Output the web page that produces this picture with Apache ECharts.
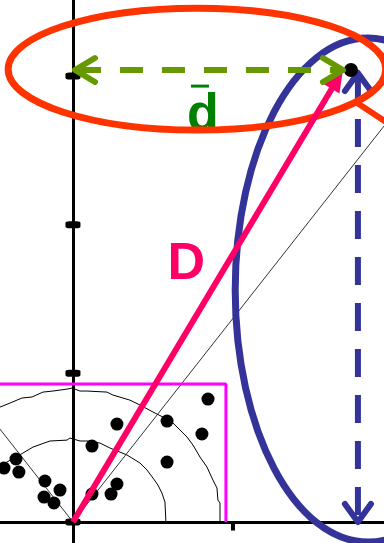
<!DOCTYPE html>
<html>
<head>
<meta charset="utf-8">
<script src="https://cdn.jsdelivr.net/npm/echarts@6/dist/echarts.min.js"></script>
<style>
html, body { margin: 0; padding: 0; background: #fff; }
#main { width: 384px; height: 543px; }
</style>
</head>
<body>
<div id="main"></div>
<script>
// axis ticks
var yTicks = [0, 1, 2, 3];
var xTicks = [1];

// sample points
var dots = [
	[0.844, 0.827], [0.806, 0.592], [0.588, 0.679], [0.588, 0.403],
	[0.275, 0.659], [0.119, 0.511], [0.275, 0.256], [0.238, 0.188],
	[0.119, 0.188], [-0.356, 0.424], [-0.431, 0.363], [-0.338, 0.336],
	[-0.175, 0.276], [-0.081, 0.215], [-0.181, 0.168], [-0.119, 0.128]
];
var meanPoint = [1.7375, 3.04];

// contour lines
var innerArc = [
	[-0.456, 0.377], [-0.3125, 0.464], [-0.25, 0.504], [-0.144, 0.545],
	[-0.0375, 0.551], [-0.019, 0.565], [0.044, 0.545], [0.106, 0.545],
	[0.169, 0.531], [0.231, 0.498], [0.3375, 0.451], [0.419, 0.397],
	[0.4625, 0.35], [0.5, 0.296], [0.531, 0.249], [0.556, 0.195],
	[0.575, 0.134], [0.581, 0]
];
var outerArc = [
	[-0.456, 0.773], [-0.394, 0.8], [-0.319, 0.834], [-0.256, 0.841],
	[-0.1875, 0.874], [-0.125, 0.881], [-0.0375, 0.894], [-0.006, 0.901],
	[0.0125, 0.894], [0.044, 0.881], [0.0875, 0.881], [0.2125, 0.874],
	[0.25, 0.854], [0.356, 0.82], [0.419, 0.787], [0.5, 0.74],
	[0.5625, 0.706], [0.625, 0.666], [0.669, 0.619], [0.7125, 0.572],
	[0.75, 0.518], [0.794, 0.437], [0.8375, 0.37], [0.875, 0.282],
	[0.9, 0.229], [0.906, 0.148], [0.919, 0.128], [0.919, 0]
];
var diagLeft = [[0, 0], [-0.5, 0.685]];
var diagRight = [[0, 0], [2.0, 2.74]];
var boxEdge = [[-0.5, 0.928], [0.956, 0.928], [0.956, 0]];

// arrows: x1, y1, x2, y2
var arrowD = [0, 0, 1.6875, 3.04];
var arrowDbar = [0.0125, 3.04, 1.6875, 3.04];
var arrowVert = [1.781, 3.02, 1.781, 0];

// ellipses: cx, cy, rx, ry
var redEllipse = [0.775, 3.046, 1.18, 0.41];
var blueEllipse = [1.844, 1.56, 0.83, 1.695];
var redTail = [[1.76, 2.83], [2.0, 2.66]];

// labels: text, x, y
var labelD = ['D', 0.709, 1.728];
var labelDbar = ['d', 0.8125, 2.73];
var overBar = [[0.7375, 2.932], [0.85, 2.932]];

function lineSeries(data, color, width, z) {
	return {
		type : 'line',
		data : data,
		z : z,
		showSymbol : false,
		silent : true,
		lineStyle : { color : color, width : width, opacity : 1 },
		animation : false
	};
}

function arrowSeries(seg, o) {
	return {
		type : 'custom',
		z : o.z,
		silent : true,
		data : [ seg ],
		renderItem : function(params, api) {
			var a = api.coord([ api.value(0), api.value(1) ]);
			var b = api.coord([ api.value(2), api.value(3) ]);
			var dx = b[0] - a[0], dy = b[1] - a[1];
			var len = Math.sqrt(dx * dx + dy * dy);
			var ux = dx / len, uy = dy / len;
			var kids = [ {
				type : 'line',
				shape : { x1 : a[0], y1 : a[1], x2 : b[0] - ux * o.trim, y2 : b[1] - uy * o.trim },
				style : { stroke : o.color, lineWidth : o.width, lineDash : o.dash || null, lineDashOffset : o.dashOffset || 0 }
			} ];
			function head(tip, sx, sy) {
				var bx = tip[0] - sx * o.headLen, by = tip[1] - sy * o.headLen;
				var p1 = [ bx - sy * o.headHalf, by + sx * o.headHalf ];
				var p2 = [ bx + sy * o.headHalf, by - sx * o.headHalf ];
				if (o.filled) {
					return { type : 'polygon', shape : { points : [ p1, tip, p2 ] }, style : { fill : o.color } };
				}
				return {
					type : 'polyline',
					shape : { points : [ p1, tip, p2 ] },
					style : { stroke : o.color, lineWidth : o.width, fill : null, lineJoin : 'round', lineCap : 'round' }
				};
			}
			if (o.end) kids.push(head(b, ux, uy));
			if (o.start) kids.push(head(a, -ux, -uy));
			return { type : 'group', children : kids };
		}
	};
}

function ellipseSeries(e, color, width, z) {
	return {
		type : 'custom',
		z : z,
		silent : true,
		data : [ e ],
		renderItem : function(params, api) {
			var c = api.coord([ api.value(0), api.value(1) ]);
			var s = api.size([ api.value(2), api.value(3) ]);
			return {
				type : 'ellipse',
				shape : { cx : c[0], cy : c[1], rx : s[0], ry : s[1] },
				style : { fill : null, stroke : color, lineWidth : width }
			};
		}
	};
}

function labelSeries(l, color, z) {
	return {
		type : 'custom',
		z : z,
		silent : true,
		data : [ [ l[1], l[2] ] ],
		renderItem : function(params, api) {
			var c = api.coord([ api.value(0), api.value(1) ]);
			return {
				type : 'text',
				x : c[0],
				y : c[1],
				style : {
					text : l[0],
					fill : color,
					font : 'bold 52px "Liberation Sans", Arial, sans-serif',
					textAlign : 'center',
					textVerticalAlign : 'middle'
				}
			};
		}
	};
}

function dotSeries(data, size, z) {
	return {
		type : 'scatter',
		z : z,
		silent : true,
		symbolSize : size,
		itemStyle : { color : '#000', opacity : 1 },
		data : data
	};
}

var chart = echarts.init(document.getElementById('main'));
var option = {
	animation : false,
	grid : { left : 0, right : 0, top : 0, bottom : 0 },
	xAxis : {
		type : 'value',
		min : -0.456,
		max : 1.944,
		axisLine : { show : true, onZero : true, lineStyle : { color : '#000', width : 3 } },
		axisTick : { show : false },
		axisLabel : { show : false },
		splitLine : { show : false }
	},
	yAxis : {
		type : 'value',
		min : -0.141,
		max : 3.511,
		axisLine : { show : true, onZero : true, lineStyle : { color : '#000', width : 3 } },
		axisTick : { show : false },
		axisLabel : { show : false },
		splitLine : { show : false }
	},
	series : [
		lineSeries(innerArc, '#000', 1, 1),
		lineSeries(outerArc, '#000', 1, 1),
		lineSeries(diagLeft, '#333', 1, 1),
		lineSeries(diagRight, '#333', 1, 1),
		lineSeries(boxEdge, '#ff00ff', 3, 2),
		{
			type : 'scatter',
			z : 3,
			silent : true,
			symbol : 'roundRect',
			symbolSize : [ 15, 7 ],
			itemStyle : { color : '#000', opacity : 1 },
			data : yTicks.map(function(v) { return [ 0, v ]; })
		},
		{
			type : 'scatter',
			z : 3,
			silent : true,
			symbol : 'rect',
			symbolSize : [ 4, 9 ],
			symbolOffset : [ 0, 4 ],
			itemStyle : { color : '#000', opacity : 1 },
			data : xTicks.map(function(v) { return [ v, 0 ]; })
		},
		dotSeries(dots, 13, 4),
		ellipseSeries(blueEllipse, '#333399', 7, 5),
		arrowSeries(arrowVert, { color : '#333399', width : 6, dash : [ 28, 18 ], trim : 0, headLen : 18, headHalf : 13, start : true, end : true, z : 6 }),
		lineSeries(redTail, '#ff3300', 6, 7),
		labelSeries(labelDbar, '#008000', 7),
		lineSeries(overBar, '#008000', 3, 7),
		ellipseSeries(redEllipse, '#ff3300', 7, 8),
		dotSeries([ meanPoint ], 14, 9),
		arrowSeries(arrowD, { color : '#ff0066', width : 6, trim : 14, headLen : 22, headHalf : 9, filled : true, end : true, z : 10 }),
		arrowSeries(arrowDbar, { color : '#669900', width : 6, dash : [ 23, 19 ], dashOffset : 39, trim : 0, headLen : 20, headHalf : 12, start : true, end : true, z : 10 }),
		labelSeries(labelD, '#ff0066', 10)
	]
};
chart.setOption(option, true);
</script>
</body>
</html>
